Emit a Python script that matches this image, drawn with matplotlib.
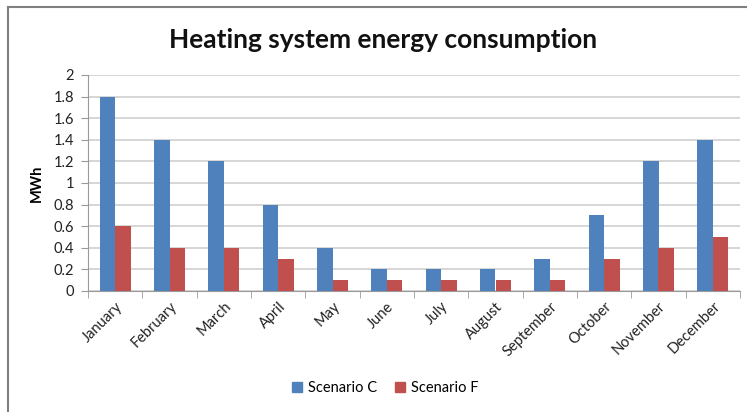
import numpy as np
import matplotlib
matplotlib.use("Agg")
import matplotlib.pyplot as plt
from matplotlib.lines import Line2D
from matplotlib.patches import Patch

months = ["January", "February", "March", "April", "May", "June",
          "July", "August", "September", "October", "November", "December"]
scenario_c = [1.8, 1.4, 1.2, 0.8, 0.4, 0.2, 0.2, 0.2, 0.3, 0.7, 1.2, 1.4]
scenario_f = [0.6, 0.4, 0.4, 0.3, 0.1, 0.1, 0.1, 0.1, 0.1, 0.3, 0.4, 0.5]
yticks = [0, 0.2, 0.4, 0.6, 0.8, 1, 1.2, 1.4, 1.6, 1.8, 2]

plt.rcParams['font.family'] = ['Lato', 'DejaVu Sans']

blue = '#4F81BD'
red = '#C0504D'
W, H = 747, 412

fig = plt.figure(figsize=(W / 100, H / 100), dpi=100)
ax = fig.add_axes([88 / W, 1 - 291 / H, (740 - 88) / W, (291 - 75) / H])

x = np.arange(len(months))
bw = 1 / 3.5
ax.bar(x - bw / 2, scenario_c, bw, color=blue, zorder=3)
ax.bar(x + bw / 2, scenario_f, bw, color=red, zorder=3)

ax.set_xlim(-0.5, len(months) - 0.5)
ax.set_ylim(0, 2)
ax.set_yticks(yticks)
ax.set_yticklabels([f"{v:g}" for v in yticks], fontsize=10.5, color='#222222')
ax.yaxis.grid(True, color='#D0D0D0', linewidth=1.2, zorder=0)

ax.set_xticks(x)
ax.set_xticklabels(months, rotation=45, ha='right', rotation_mode='anchor',
                   fontsize=10.5, color='#222222')
ax.tick_params(axis='x', length=0, pad=6)
ax.set_xticks(np.arange(-0.5, len(months)), minor=True)
ax.tick_params(axis='x', which='minor', length=5, color='#9a9a9a')
ax.tick_params(axis='y', length=5, color='#9a9a9a', pad=5)

for side in ['top', 'right']:
    ax.spines[side].set_visible(False)
for side in ['left', 'bottom']:
    ax.spines[side].set_color('#9a9a9a')

ax.set_ylabel("MWh", fontsize=10.5, fontweight='bold', labelpad=7)

fig.text(383 / W, 1 - 40 / H, "Heating system energy consumption",
         ha='center', va='center', fontsize=19, fontweight='bold', color='#111111')

handles = [Patch(color=blue, label="Scenario C"), Patch(color=red, label="Scenario F")]
fig.legend(handles=handles, loc='center', bbox_to_anchor=(385 / W, 1 - 388 / H),
           ncol=2, frameon=False, fontsize=10.5, handlelength=0.7, handleheight=0.7,
           handletextpad=0.4, columnspacing=1.2)

# outer chart frame (top and left edges)
fig.add_artist(Line2D([8 / W, 1], [1 - 7 / H, 1 - 7 / H], color='#808080', linewidth=1.5))
fig.add_artist(Line2D([8 / W, 8 / W], [0, 1 - 7 / H], color='#808080', linewidth=1.5))

fig.savefig("out.png", dpi=100)
